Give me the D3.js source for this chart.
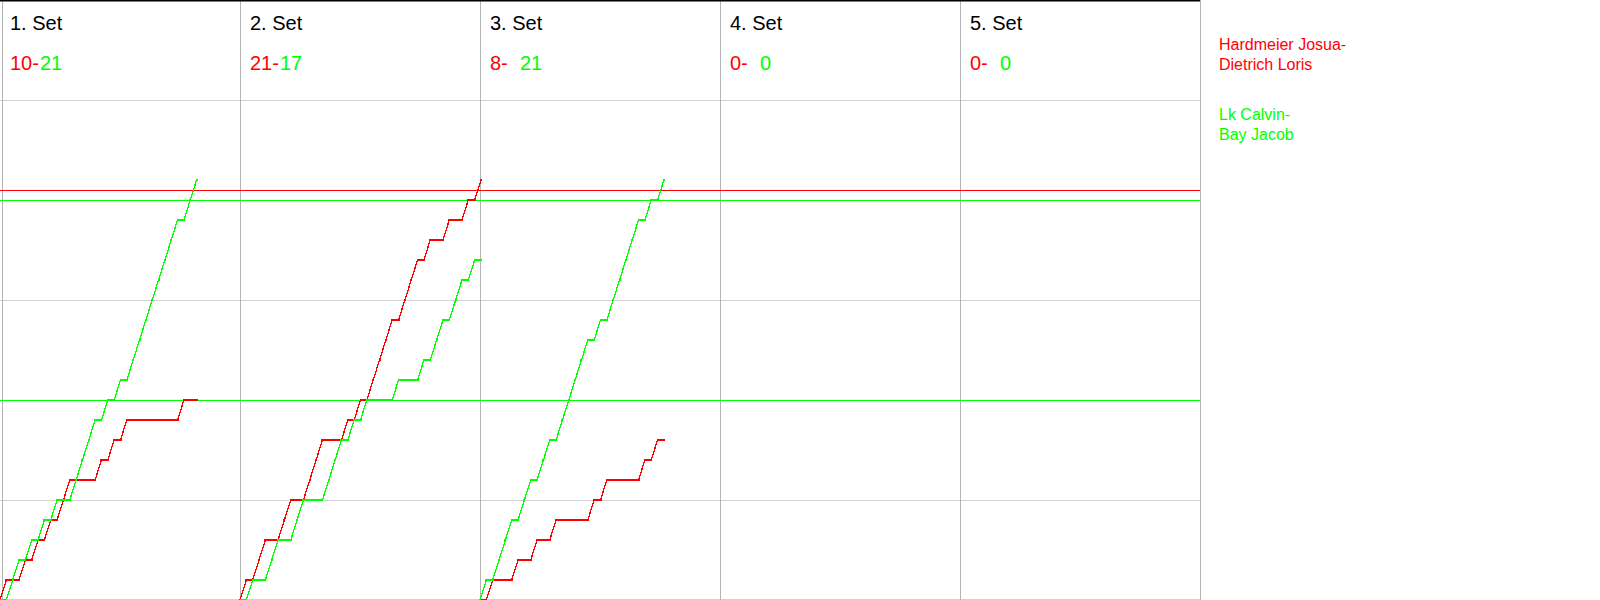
<!DOCTYPE html>
<html>
<head>
<meta charset="utf-8">
<script src="https://cdn.jsdelivr.net/npm/d3@7"></script>
<style>
  html, body { margin: 0; padding: 0; background: #fff; }
  svg { display: block; }
  text { font-family: "Liberation Sans", Arial, sans-serif; }
</style>
</head>
<body>
<svg id="chart" width="1600" height="600"></svg>
<script>
// ---- data ----
const setTitles = ["1. Set", "2. Set", "3. Set", "4. Set", "5. Set"];
const teamANames = ["Hardmeier Josua-", "Dietrich Loris"];
const teamBNames = ["Lk Calvin-", "Bay Jacob"];
const setScoresA = [10, 21, 8, 0, 0];
const setScoresB = [21, 17, 21, 0, 0];
// rally winners per set: "A" = Hardmeier/Dietrich (red), "B" = Lk/Bay (green)
const set1Rallies = ["A","B","B","A","B","A","B","A","B","A","A","B","B","B","B","A","B","A","B","A",
                     "B","B","B","B","B","B","B","B","A","B","B"];
const set2Rallies = ["A","B","A","A","B","B","A","A","B","B","A","A","A","B","B","B","A","B","A","B",
                     "A","A","A","A","B","A","A","A","B","A","B","B","A","B","B","A","B","A"];
const set3Rallies = ["B","A","B","B","B","A","B","B","A","B","B","A","B","B","B","B","B","A","B","A",
                     "B","B","B","B","B","A","B","A","B"];
const set4Rallies = [];
const set5Rallies = [];
const gridScores = [5, 10, 15, 20, 25];
const refScoresB = [10, 20];
const refScoresA = [20.5];

// ---- layout ----
const colorA = "#ff0000", colorB = "#00ff00";
const panelW = 240, nPanels = 5, plotRight = panelW * nPanels;
const allRallies = [set1Rallies, set2Rallies, set3Rallies, set4Rallies, set5Rallies];
const maxRallies = d3.max(allRallies, r => r.length);

const svg = d3.select("#chart");
const y = d3.scaleLinear().domain([0, 30]).range([600, 0]);
const xLocal = d3.scaleLinear().domain([0, maxRallies]).range([0, 241]);
const panelX = d3.scaleBand().domain(d3.range(nPanels)).range([0, plotRight]).paddingInner(0).paddingOuter(0);

// horizontal grid
svg.append("g").selectAll("line").data(gridScores).join("line")
  .attr("x1", 0).attr("x2", plotRight)
  .attr("y1", d => Math.round(y(d)) + 0.5).attr("y2", d => Math.round(y(d)) + 0.5)
  .attr("stroke", "#d3d3d3").attr("shape-rendering", "crispEdges");
svg.append("line").attr("x1", 0).attr("x2", plotRight).attr("y1", 599.5).attr("y2", 599.5)
  .attr("stroke", "#d3d3d3").attr("shape-rendering", "crispEdges");
svg.append("line").attr("x1", 0).attr("x2", plotRight).attr("y1", 100.5).attr("y2", 100.5)
  .attr("stroke", "#d3d3d3").attr("shape-rendering", "crispEdges");

// vertical panel lines
const vx = [2].concat(d3.range(1, nPanels + 1).map(i => panelX(i - 1) + panelW));
svg.append("g").selectAll("line").data(vx).join("line")
  .attr("x1", d => d + 0.5).attr("x2", d => d + 0.5).attr("y1", 0).attr("y2", 600)
  .attr("stroke", "#b4b4b4").attr("shape-rendering", "crispEdges");

// top border
svg.append("rect").attr("x", 0).attr("y", 0).attr("width", plotRight).attr("height", 1.5).attr("fill", "#000");

// reference lines
svg.append("g").selectAll("line").data(refScoresA).join("line")
  .attr("x1", 0).attr("x2", plotRight)
  .attr("y1", d => Math.round(y(d)) + 0.5).attr("y2", d => Math.round(y(d)) + 0.5)
  .attr("stroke", colorA).attr("stroke-width", 1.2).attr("shape-rendering", "crispEdges");
svg.append("g").selectAll("line").data(refScoresB).join("line")
  .attr("x1", 0).attr("x2", plotRight)
  .attr("y1", d => Math.round(y(d)) + 0.5).attr("y2", d => Math.round(y(d)) + 0.5)
  .attr("stroke", colorB).attr("stroke-width", 1.2).attr("shape-rendering", "crispEdges");

// panels
allRallies.forEach((rallies, i) => {
  const g = svg.append("g").attr("transform", `translate(${panelX(i)},0)`);
  g.append("text").attr("x", 10).attr("y", 29.5).attr("font-size", 20).attr("fill", "#000").text(setTitles[i]);
  g.append("text").attr("x", 10).attr("y", 70).attr("font-size", 20).attr("fill", colorA).text(setScoresA[i] + "-");
  g.append("text").attr("x", 40).attr("y", 70).attr("font-size", 20).attr("fill", colorB).text(setScoresB[i]);

  if (!rallies.length) return;
  let a = 0, b = 0;
  const ptsA = [[0, 0]], ptsB = [[0, 0]];
  rallies.forEach((w, k) => {
    if (w === "A") a++; else b++;
    ptsA.push([k + 1, a]);
    ptsB.push([k + 1, b]);
  });
  const line = d3.line().x(d => xLocal(d[0])).y(d => y(d[1]));
  [[ptsA, colorA], [ptsB, colorB]].forEach(([pts, col]) => {
    g.append("path").attr("d", line(pts)).attr("fill", "none").attr("stroke", col)
      .attr("stroke-width", 1.3).attr("shape-rendering", "crispEdges");
    g.append("g").selectAll("rect").data(pts.slice(1)).join("rect")
      .attr("x", d => Math.round(xLocal(d[0])) - 1).attr("y", d => Math.round(y(d[1])) - 1)
      .attr("width", 2).attr("height", 2).attr("fill", col);
  });
});

// legend
const legend = svg.append("g");
legend.append("text").attr("font-size", 16).attr("fill", colorA).selectAll("tspan").data(teamANames).join("tspan")
  .attr("x", 1219).attr("y", (d, i) => 50 + i * 20).text(d => d);
legend.append("text").attr("font-size", 16).attr("fill", colorB).selectAll("tspan").data(teamBNames).join("tspan")
  .attr("x", 1219).attr("y", (d, i) => 120 + i * 20).text(d => d);
</script>
</body>
</html>
